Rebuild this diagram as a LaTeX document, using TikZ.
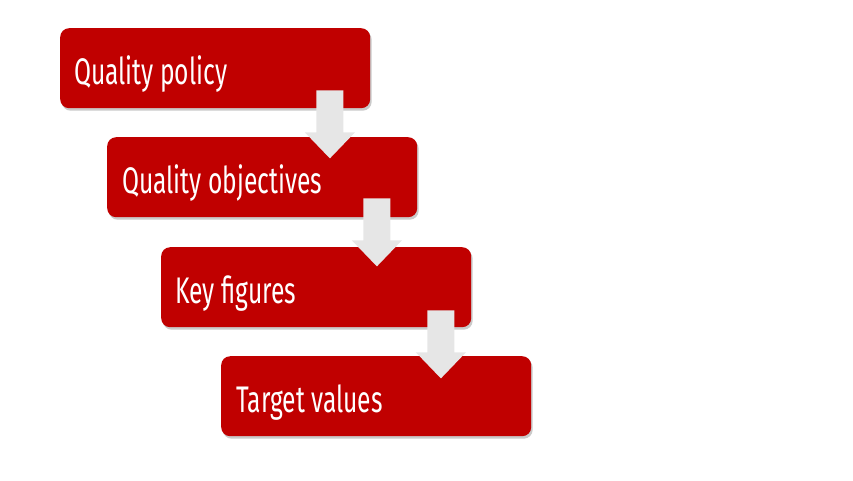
\documentclass[tikz,border=0pt]{standalone}
\usepackage{fontspec}
\setmainfont{Fira Sans}[FakeStretch=0.665]
\usetikzlibrary{shadows,calc}
\definecolor{boxred}{HTML}{C00000}
\definecolor{arrgray}{HTML}{E6E6E6}
\tikzset{
  redbox/.style={rectangle, rounded corners=9pt, fill=boxred, draw=none,
    minimum width=310pt, minimum height=80pt, anchor=north west, inner sep=0pt,
    drop shadow={shadow xshift=1.5pt, shadow yshift=-2.5pt, opacity=0.35, fill=black!60}},
  boxtext/.style={anchor=base west, text=white, font=\fontsize{37}{42}\selectfont, inner sep=0pt},
  pics/downarrow/.style={code={
    \fill[arrgray] (-13.5,0) -- (13.5,0) -- (13.5,42) -- (25,42) -- (0,68) -- (-25,42) -- (-13.5,42) -- cycle;
  }}
}
\begin{document}
\begin{tikzpicture}[x=1pt,y=-1pt]
\useasboundingbox (0,0) rectangle (853,480);
\node[redbox] (b1) at (60,28) {};
\node[redbox] (b2) at (107,137) {};
\node[redbox] (b3) at (161,247) {};
\node[redbox] (b4) at (221,356) {};
\node[boxtext] (t1) at ($(b1.north west)+(14,56)$) {Quality policy};
\node[boxtext] (t2) at ($(b2.north west)+(15,56)$) {Quality objectives};
\node[boxtext] (t3) at ($(b3.north west)+(14,56)$) {Key figures};
\node[boxtext] (t4) at ($(b4.north west)+(15,56)$) {Target values};
\coordinate (a1) at ($(b1.south east)+(-40.5,-18)$);
\coordinate (a2) at ($(b2.south east)+(-40.5,-19)$);
\coordinate (a3) at ($(b3.south east)+(-30.5,-17)$);
\pic at (a1) {downarrow};
\pic at (a2) {downarrow};
\pic at (a3) {downarrow};
\end{tikzpicture}
\end{document}
